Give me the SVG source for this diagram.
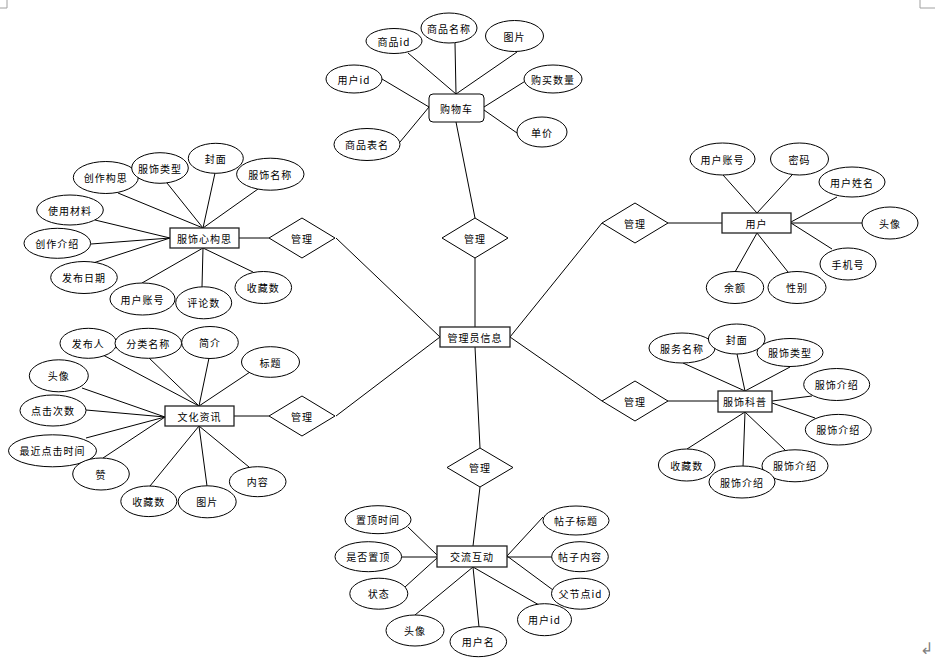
<svg xmlns="http://www.w3.org/2000/svg" width="935" height="662" viewBox="0 0 935 662">
<style>
.e{fill:#fff;stroke:#000;stroke-width:1}
.r{fill:#fff;stroke:#222;stroke-width:1.3}
.d{fill:#fff;stroke:#000;stroke-width:1}
.c line,.c polyline{stroke:#000;stroke-width:1;fill:none}
text{font-family:"Noto Sans CJK SC","Liberation Sans",sans-serif;font-size:10px;letter-spacing:1px;fill:#000;text-anchor:middle;dominant-baseline:central}
.m{stroke:#a0a0a0;stroke-width:1;fill:none}
</style>
<rect width="935" height="662" fill="#fff"/>
<polyline class="m" points="0,8 7,8 7,0"/>
<polyline class="m" points="935,8 920,8 920,0"/>
<text x="926" y="647" style="fill:#808080;font-size:16px;letter-spacing:0">↲</text>

<g id="connectors" class="c">
<line x1="456" y1="94" x2="455" y2="43"/>
<line x1="408" y1="53" x2="456" y2="94"/>
<line x1="517" y1="52" x2="456" y2="94"/>
<line x1="382" y1="79" x2="429" y2="107"/>
<line x1="400" y1="142" x2="429" y2="107"/>
<line x1="527" y1="80" x2="484" y2="107"/>
<line x1="517" y1="133" x2="484" y2="110"/>
<line x1="456" y1="122" x2="475" y2="218"/>
<line x1="475" y1="258" x2="475" y2="327"/>
<line x1="336" y1="238" x2="440" y2="337"/>
<line x1="336" y1="416" x2="440" y2="337"/>
<line x1="475" y1="347" x2="480" y2="448"/>
<line x1="510" y1="337" x2="602" y2="223"/>
<line x1="510" y1="337" x2="602" y2="401"/>
<line x1="668" y1="223" x2="722" y2="223"/>
<line x1="723" y1="175" x2="757" y2="213"/>
<line x1="792" y1="175" x2="757" y2="213"/>
<line x1="837" y1="197" x2="791" y2="222"/>
<line x1="862" y1="223" x2="791" y2="223"/>
<line x1="832" y1="249" x2="791" y2="223"/>
<line x1="735" y1="272" x2="757" y2="233"/>
<line x1="788" y1="272" x2="757" y2="233"/>
<line x1="668" y1="401" x2="718" y2="401"/>
<line x1="683" y1="363" x2="745" y2="391"/>
<line x1="737" y1="354" x2="745" y2="391"/>
<line x1="790" y1="367" x2="745" y2="391"/>
<line x1="812" y1="396" x2="772" y2="401"/>
<line x1="815" y1="418" x2="772" y2="403"/>
<line x1="785" y1="450" x2="745" y2="412"/>
<line x1="743" y1="467" x2="745" y2="412"/>
<line x1="687" y1="449" x2="745" y2="412"/>
<line x1="480" y1="487" x2="473" y2="546"/>
<line x1="408" y1="527" x2="437" y2="555"/>
<line x1="402" y1="557" x2="437" y2="557"/>
<line x1="405" y1="587" x2="437" y2="558"/>
<line x1="415" y1="615" x2="473" y2="567"/>
<line x1="479" y1="627" x2="473" y2="567"/>
<line x1="539" y1="605" x2="473" y2="567"/>
<line x1="553" y1="590" x2="507" y2="556"/>
<line x1="552" y1="557" x2="507" y2="557"/>
<line x1="543" y1="517" x2="507" y2="556"/>
<line x1="239" y1="238" x2="269" y2="238"/>
<line x1="118" y1="193" x2="203" y2="228"/>
<line x1="167" y1="183" x2="203" y2="228"/>
<line x1="215" y1="173" x2="203" y2="228"/>
<line x1="258" y1="189" x2="203" y2="228"/>
<line x1="95" y1="220" x2="170" y2="238"/>
<line x1="91" y1="244" x2="170" y2="238"/>
<line x1="90" y1="264" x2="170" y2="238"/>
<line x1="142" y1="283" x2="203" y2="248"/>
<line x1="202" y1="287" x2="203" y2="248"/>
<line x1="253" y1="272" x2="203" y2="248"/>
<line x1="234" y1="416" x2="269" y2="416"/>
<line x1="103" y1="355" x2="199" y2="406"/>
<line x1="148" y1="357" x2="199" y2="406"/>
<line x1="209" y1="358" x2="199" y2="406"/>
<line x1="250" y1="372" x2="199" y2="406"/>
<line x1="82" y1="388" x2="165" y2="417"/>
<line x1="86" y1="410" x2="165" y2="417"/>
<line x1="86" y1="438" x2="165" y2="417"/>
<line x1="103" y1="458" x2="165" y2="417"/>
<line x1="150" y1="486" x2="199" y2="426"/>
<line x1="207" y1="486" x2="199" y2="426"/>
<line x1="249" y1="467" x2="199" y2="426"/>
</g>

<g id="cart"><rect x="429" y="94" width="55" height="28" rx="4" class="e"/><text x="456.5" y="108">购物车</text></g>
<g id="cart-a1"><ellipse cx="394" cy="41" rx="28" ry="12.5" class="e"/><text x="394" y="41">商品id</text></g>
<g id="cart-a2"><ellipse cx="449" cy="28" rx="28" ry="15" class="e"/><text x="449" y="28">商品名称</text></g>
<g id="cart-a3"><ellipse cx="514.5" cy="36" rx="29" ry="15.5" class="e"/><text x="514.5" y="36">图片</text></g>
<g id="cart-a4"><ellipse cx="354" cy="79" rx="28" ry="14" class="e"/><text x="354" y="79">用户id</text></g>
<g id="cart-a5"><ellipse cx="553" cy="79" rx="29" ry="14" class="e"/><text x="553" y="79">购买数量</text></g>
<g id="cart-a6"><ellipse cx="542" cy="132" rx="25" ry="15" class="e"/><text x="542" y="132">单价</text></g>
<g id="cart-a7"><ellipse cx="367" cy="144.5" rx="33" ry="16" class="e"/><text x="367" y="144.5">商品表名</text></g>

<g id="rel-cart"><polygon points="475,218 508,238 475,258 442,238" class="d"/><text x="475" y="238">管理</text></g>
<g id="rel-design"><polygon points="302,218 335,238 302,258 269,238" class="d"/><text x="302" y="238">管理</text></g>
<g id="rel-news"><polygon points="302,396 335,416 302,436 269,416" class="d"/><text x="302" y="416">管理</text></g>
<g id="rel-forum"><polygon points="480,448 513,467.5 480,487 447,467.5" class="d"/><text x="480" y="467.5">管理</text></g>
<g id="rel-user"><polygon points="635,203 668,223 635,243 602,223" class="d"/><text x="635" y="223">管理</text></g>
<g id="rel-sci"><polygon points="635,381 668,401 635,421 602,401" class="d"/><text x="635" y="401">管理</text></g>

<g id="admin"><rect x="440" y="327" width="70" height="20" class="r"/><text x="475" y="337">管理员信息</text></g>

<g id="user"><rect x="722" y="213" width="69" height="20" class="r"/><text x="756.5" y="223">用户</text></g>
<g id="user-a1"><ellipse cx="722.5" cy="159" rx="32.5" ry="16" class="e"/><text x="722.5" y="159">用户账号</text></g>
<g id="user-a2"><ellipse cx="799.5" cy="159" rx="29" ry="16" class="e"/><text x="799.5" y="159">密码</text></g>
<g id="user-a3"><ellipse cx="852" cy="182" rx="33" ry="15" class="e"/><text x="852" y="182">用户姓名</text></g>
<g id="user-a4"><ellipse cx="890" cy="223" rx="28" ry="16" class="e"/><text x="890" y="223">头像</text></g>
<g id="user-a5"><ellipse cx="848" cy="264" rx="28" ry="16" class="e"/><text x="848" y="264">手机号</text></g>
<g id="user-a6"><ellipse cx="735" cy="287.5" rx="28.7" ry="16" class="e"/><text x="735" y="287.5">余额</text></g>
<g id="user-a7"><ellipse cx="797" cy="287.5" rx="29" ry="16" class="e"/><text x="797" y="287.5">性别</text></g>

<g id="sci"><rect x="718" y="391" width="54" height="21" class="r"/><text x="745" y="401.5">服饰科普</text></g>
<g id="sci-a1"><ellipse cx="682" cy="348" rx="33" ry="15" class="e"/><text x="682" y="348">服务名称</text></g>
<g id="sci-a3"><ellipse cx="790" cy="352.5" rx="33" ry="14" class="e"/><text x="790" y="352.5">服饰类型</text></g>
<g id="sci-a2"><ellipse cx="736.7" cy="339" rx="28.3" ry="15" class="e"/><text x="736.7" y="339">封面</text></g>
<g id="sci-a4"><ellipse cx="836.7" cy="384.5" rx="33" ry="16" class="e"/><text x="836.7" y="384.5">服饰介绍</text></g>
<g id="sci-a5"><ellipse cx="838.3" cy="429.7" rx="33" ry="15.3" class="e"/><text x="838.3" y="429.7">服饰介绍</text></g>
<g id="sci-a6"><ellipse cx="795" cy="465.8" rx="33" ry="16" class="e"/><text x="795" y="465.8">服饰介绍</text></g>
<g id="sci-a7"><ellipse cx="742" cy="482" rx="33" ry="16" class="e"/><text x="742" y="482">服饰介绍</text></g>
<g id="sci-a8"><ellipse cx="686.7" cy="465" rx="28.3" ry="16" class="e"/><text x="686.7" y="465">收藏数</text></g>

<g id="forum"><rect x="437" y="546" width="70" height="21" class="r"/><text x="472" y="556.5">交流互动</text></g>
<g id="forum-a1"><ellipse cx="378" cy="519.7" rx="33" ry="14" class="e"/><text x="378" y="519.7">置顶时间</text></g>
<g id="forum-a2"><ellipse cx="368.3" cy="556.7" rx="33.3" ry="15" class="e"/><text x="368.3" y="556.7">是否置顶</text></g>
<g id="forum-a3"><ellipse cx="378.8" cy="593.7" rx="29" ry="15.5" class="e"/><text x="378.8" y="593.7">状态</text></g>
<g id="forum-a4"><ellipse cx="415" cy="630.5" rx="29" ry="15.5" class="e"/><text x="415" y="630.5">头像</text></g>
<g id="forum-a5"><ellipse cx="478.3" cy="641.7" rx="28.3" ry="15" class="e"/><text x="478.3" y="641.7">用户名</text></g>
<g id="forum-a6"><ellipse cx="544.5" cy="619.7" rx="27" ry="16" class="e"/><text x="544.5" y="619.7">用户id</text></g>
<g id="forum-a7"><ellipse cx="580.5" cy="593.7" rx="29" ry="15.5" class="e"/><text x="580.5" y="593.7">父节点id</text></g>
<g id="forum-a8"><ellipse cx="580" cy="556.7" rx="28.3" ry="15" class="e"/><text x="580" y="556.7">帖子内容</text></g>
<g id="forum-a9"><ellipse cx="576" cy="520.5" rx="33" ry="14.5" class="e"/><text x="576" y="520.5">帖子标题</text></g>

<g id="design"><rect x="170" y="228" width="69" height="20" class="r"/><text x="204.5" y="238">服饰心构思</text></g>
<g id="design-a1"><ellipse cx="105.8" cy="177.5" rx="32.5" ry="16" class="e"/><text x="105.8" y="177.5">创作构思</text></g>
<g id="design-a2"><ellipse cx="160" cy="168" rx="28.3" ry="15.3" class="e"/><text x="160" y="168">服饰类型</text></g>
<g id="design-a3"><ellipse cx="215.8" cy="158.3" rx="27.5" ry="15" class="e"/><text x="215.8" y="158.3">封面</text></g>
<g id="design-a4"><ellipse cx="270.3" cy="174.2" rx="33.7" ry="16" class="e"/><text x="270.3" y="174.2">服饰名称</text></g>
<g id="design-a5"><ellipse cx="70" cy="210" rx="33.3" ry="15" class="e"/><text x="70" y="210">使用材料</text></g>
<g id="design-a6"><ellipse cx="57.3" cy="243.3" rx="33.3" ry="15" class="e"/><text x="57.3" y="243.3">创作介绍</text></g>
<g id="design-a7"><ellipse cx="84" cy="277.5" rx="33.3" ry="16" class="e"/><text x="84" y="277.5">发布日期</text></g>
<g id="design-a8"><ellipse cx="142.5" cy="299" rx="32.5" ry="16" class="e"/><text x="142.5" y="299">用户账号</text></g>
<g id="design-a9"><ellipse cx="203.7" cy="302.8" rx="28" ry="16" class="e"/><text x="203.7" y="302.8">评论数</text></g>
<g id="design-a10"><ellipse cx="263.3" cy="287.5" rx="28.3" ry="16" class="e"/><text x="263.3" y="287.5">收藏数</text></g>

<g id="news"><rect x="165" y="406" width="69" height="20" class="r"/><text x="199.5" y="416">文化资讯</text></g>
<g id="news-a1"><ellipse cx="88.3" cy="343.3" rx="28.3" ry="15" class="e"/><text x="88.3" y="343.3">发布人</text></g>
<g id="news-a2"><ellipse cx="148.3" cy="343.3" rx="33.3" ry="15" class="e"/><text x="148.3" y="343.3">分类名称</text></g>
<g id="news-a3"><ellipse cx="210" cy="342.5" rx="28.3" ry="16" class="e"/><text x="210" y="342.5">简介</text></g>
<g id="news-a4"><ellipse cx="270.5" cy="362" rx="29" ry="15.3" class="e"/><text x="270.5" y="362">标题</text></g>
<g id="news-a5"><ellipse cx="58.8" cy="375.8" rx="29.5" ry="16" class="e"/><text x="58.8" y="375.8">头像</text></g>
<g id="news-a6"><ellipse cx="53" cy="410.5" rx="33" ry="15.5" class="e"/><text x="53" y="410.5">点击次数</text></g>
<g id="news-a7"><ellipse cx="52.5" cy="450.8" rx="44" ry="16" class="e"/><text x="52.5" y="450.8">最近点击时间</text></g>
<g id="news-a8"><ellipse cx="101" cy="474" rx="28.3" ry="16" class="e"/><text x="101" y="474">赞</text></g>
<g id="news-a9"><ellipse cx="148.8" cy="501.3" rx="28" ry="15.3" class="e"/><text x="148.8" y="501.3">收藏数</text></g>
<g id="news-a10"><ellipse cx="207.2" cy="501.8" rx="29" ry="16" class="e"/><text x="207.2" y="501.8">图片</text></g>
<g id="news-a11"><ellipse cx="257.7" cy="481.7" rx="28.3" ry="15" class="e"/><text x="257.7" y="481.7">内容</text></g>
</svg>
